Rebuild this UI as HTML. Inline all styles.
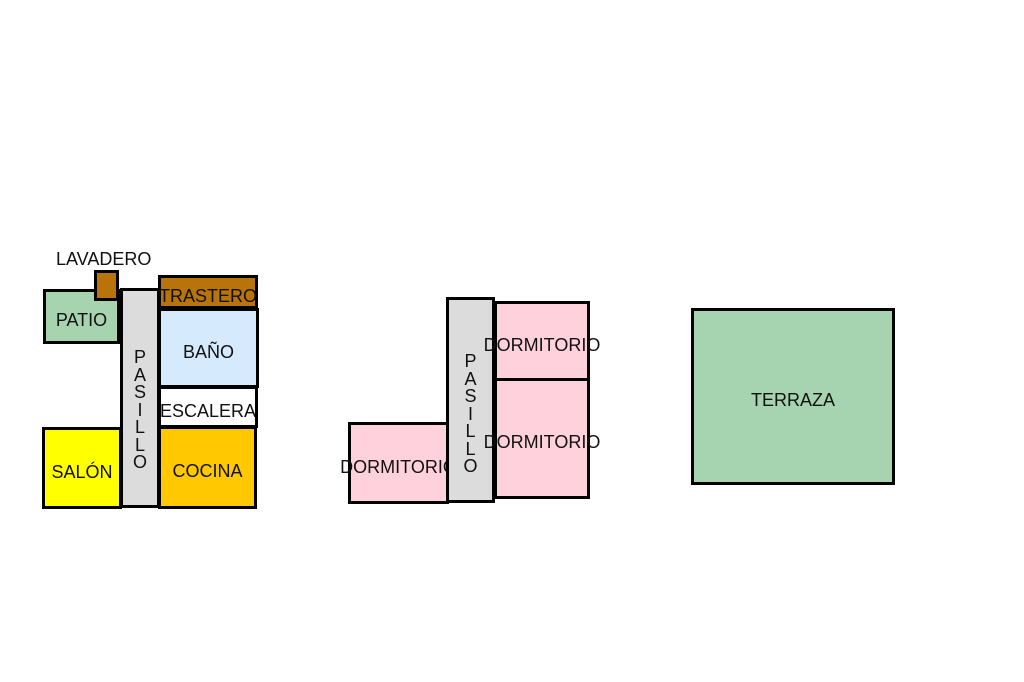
<!DOCTYPE html>
<html><head><meta charset="utf-8"><style>
body{margin:0;width:1024px;height:682px;background:#fff;position:relative;overflow:hidden;font-family:"Liberation Sans",Arial,sans-serif;}
.b{position:absolute;box-sizing:border-box;border:3px solid #000;display:flex;align-items:center;justify-content:center;font-size:18px;color:#111;white-space:nowrap;overflow:visible;padding-top:8px;}
.t{position:absolute;font-size:18px;color:#111;white-space:nowrap;}
.v{flex-direction:column;justify-content:flex-start;}
.v div{height:17.5px;line-height:17.5px;text-align:center;}
</style></head><body>
<div class="t" style="left:56px;top:249px;">LAVADERO</div>
<div class="b" style="left:43px;top:289px;width:77px;height:55px;background:#a6d4ae;">PATIO</div>
<div class="b" style="left:94px;top:270px;width:25px;height:31px;background:#b8740a;"></div>
<div class="b v" style="left:120px;top:288px;width:40px;height:220px;background:#dcdcdc;padding-top:58px;"><div>P</div><div>A</div><div>S</div><div>I</div><div>L</div><div>L</div><div>O</div></div>
<div class="b" style="left:158px;top:275px;width:100px;height:34px;background:#b8740a;"><span>TRASTERO</span></div>
<div class="b" style="left:158px;top:308px;width:101px;height:80px;background:#d6eafd;">BAÑO</div>
<div class="b" style="left:158px;top:386px;width:100px;height:42px;background:#fff;">ESCALERA</div>
<div class="b" style="left:158px;top:426px;width:99px;height:83px;background:#ffc800;">COCINA</div>
<div class="b" style="left:42px;top:427px;width:80px;height:82px;background:#ffff00;">SALÓN</div>

<div class="b" style="left:348px;top:422px;width:101px;height:82px;background:#ffd1dc;">DORMITORIO</div>
<div class="b v" style="left:446px;top:297px;width:49px;height:206px;background:#dcdcdc;padding-top:53px;"><div>P</div><div>A</div><div>S</div><div>I</div><div>L</div><div>L</div><div>O</div></div>
<div class="b" style="left:494px;top:301px;width:96px;height:80px;background:#ffd1dc;">DORMITORIO</div>
<div class="b" style="left:494px;top:378px;width:96px;height:121px;background:#ffd1dc;">DORMITORIO</div>

<div class="b" style="left:691px;top:308px;width:204px;height:177px;background:#a6d4b0;">TERRAZA</div>
</body></html>
